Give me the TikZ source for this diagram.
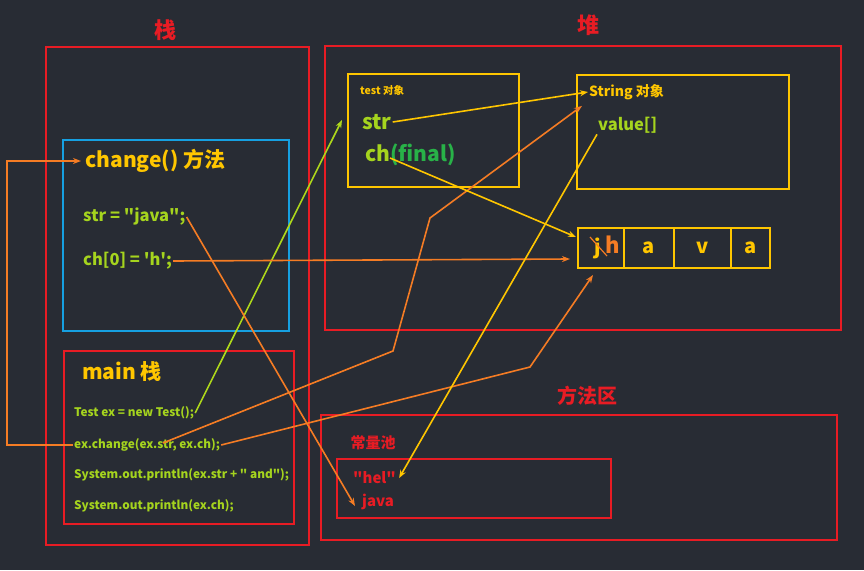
\documentclass[tikz,border=0pt]{standalone}
\usepackage{fontspec}
\newfontfamily\yh{Noto Sans CJK SC}
\usetikzlibrary{positioning,arrows.meta}
\definecolor{bg}{RGB}{40,44,52}
\definecolor{redline}{RGB}{232,28,36}
\definecolor{bluebox}{RGB}{22,160,225}
\definecolor{gold}{RGB}{255,198,0}
\definecolor{lime}{RGB}{165,212,30}
\definecolor{finalgreen}{RGB}{40,178,72}
\definecolor{orangeline}{RGB}{245,124,36}
\tikzset{
    area-box/.style = {draw=redline, line width=2pt},
    frame-box/.style = {draw=bluebox, line width=2pt},
    obj-box/.style = {draw=gold, line width=2pt},
    area-title/.style = {text=redline, font=\yh\bfseries\fontsize{22}{24}\selectfont, inner sep=0pt},
    head/.style = {text=gold, font=\yh\bfseries\fontsize{21}{22}\selectfont, anchor=west, inner sep=1pt},
    code/.style = {text=lime, font=\yh\bfseries\fontsize{11.8}{14}\selectfont, anchor=west, inner sep=1pt},
    big-code/.style = {text=lime, font=\yh\bfseries\fontsize{16.5}{18}\selectfont, anchor=west, inner sep=1pt},
    pool/.style = {text=redline, font=\yh\bfseries\fontsize{15}{18}\selectfont, anchor=west, inner sep=1pt},
    cell/.style = {obj-box, outer sep=0pt, minimum height=40pt, text=gold, font=\yh\bfseries\fontsize{20}{22}\selectfont},
    link/.style = {line width=1.6pt, -{Stealth[length=8pt,width=6pt]}},
}

\begin{document}
\begin{tikzpicture}[x=1pt, y=-1pt]
\fill[bg] (0,0) rectangle (864,570);
\useasboundingbox (0,0) rectangle (864,570);

% stack
\node[area-title] (stacklbl) at (165,30) {栈};
\draw[area-box] (46,47) rectangle (309,545);
\draw[frame-box] (63,140) rectangle (289,331);
\node[head] (chg) at (84,161) {change() 方法};
\node[big-code] (strj) at (82,217) {str = "java";};
\node[big-code] (chh) at (82,261) {ch[0] = 'h';};
\draw[area-box] (64,351) rectangle (294,524);
\node[head] (mainlbl) at (81,372) {main 栈};
\node[code] (newtest) at (73,413) {Test ex = new Test();};
\node[code] (call) at (73,445) {ex.change(ex.str, ex.ch);};
\node[code] (print1) at (73,475) {System.out.println(ex.str + " and");};
\node[code] (print2) at (73,506) {System.out.println(ex.ch);};

% heap
\node[area-title] (heaplbl) at (588,25) {堆};
\draw[area-box] (325,46) rectangle (841,330);
\draw[obj-box] (348,74) rectangle (519,187);
\node[text=gold, font=\yh\bfseries\fontsize{10.5}{12}\selectfont, anchor=west, inner sep=1pt] (testlbl) at (359,90) {test 对象};
\node[head, text=lime] (strf) at (361,122) {str};
\node[head, text=lime] (chf) at (364,155) {ch\textcolor{finalgreen}{(final)}};
\draw[obj-box] (577,75) rectangle (789,189);
\node[text=gold, font=\yh\bfseries\fontsize{14}{16}\selectfont, anchor=west, inner sep=1pt] (strtitle) at (588,92) {String 对象};
\node[big-code] (val) at (597,125) {value[]};
\node[cell, minimum width=46pt] (c1) at (601,248) {};
\node[cell, minimum width=50pt, right=0pt of c1] (c2) {a};
\node[cell, minimum width=57pt, right=0pt of c2] (c3) {v};
\node[cell, minimum width=39pt, right=0pt of c3] (c4) {a};
\node[text=gold, font=\yh\bfseries\fontsize{20}{22}\selectfont, inner sep=0pt] (oldj) at (598,248) {j};
\node[text=orangeline, font=\yh\bfseries\fontsize{22}{22}\selectfont, inner sep=0pt] (newh) at (613,245) {h};
\draw[orangeline, line width=1.2pt] (590,237) -- (607,256);

% method area
\node[area-title, font=\yh\bfseries\fontsize{20}{22}\selectfont] (methodlbl) at (587,396) {方法区};
\draw[area-box] (321,415) rectangle (837,540);
\node[area-title, font=\yh\bfseries\fontsize{15}{18}\selectfont] (poollbl) at (373,443) {常量池};
\draw[area-box] (337,459) rectangle (611,518);
\node[pool] (hel) at (352,478) {"hel"};
\node[pool] (java) at (361,502) {java};

% links
\coordinate (testin) at (342,120);
\draw[link, lime!90!yellow] (newtest.east) -- (testin);
\draw[link, orangeline] (call.west) -- ++(-66,0) |- ([xshift=-3pt]chg.west);
\coordinate (exstr) at (163,443);
\coordinate (bendlow) at (393,351);
\coordinate (bendhigh) at (430,218);
\draw[link, orangeline] (exstr) -- (bendlow) -- (bendhigh) -- ([xshift=-6pt,yshift=-5pt]strtitle.south west);
\coordinate (bendch) at (530,367);
\draw[link, orangeline] (call.east) -- (bendch) -- ([xshift=-8pt,yshift=-7pt]c1.south);
\draw[link, orangeline] (strj.east) -- ([xshift=-6pt,yshift=-4pt]java.west);
\draw[link, orangeline] (chh.east) -- ([xshift=-8pt,yshift=-11pt]c1.west);
\draw[link, gold] (strf.east) -- (strtitle.west);
\draw[link, gold] (chf.west) ++(26,3) -- ([xshift=-2pt,yshift=11pt]c1.west);
\draw[link, gold] (val.south west) -- ([xshift=2pt]hel.east);
\end{tikzpicture}
\end{document}
